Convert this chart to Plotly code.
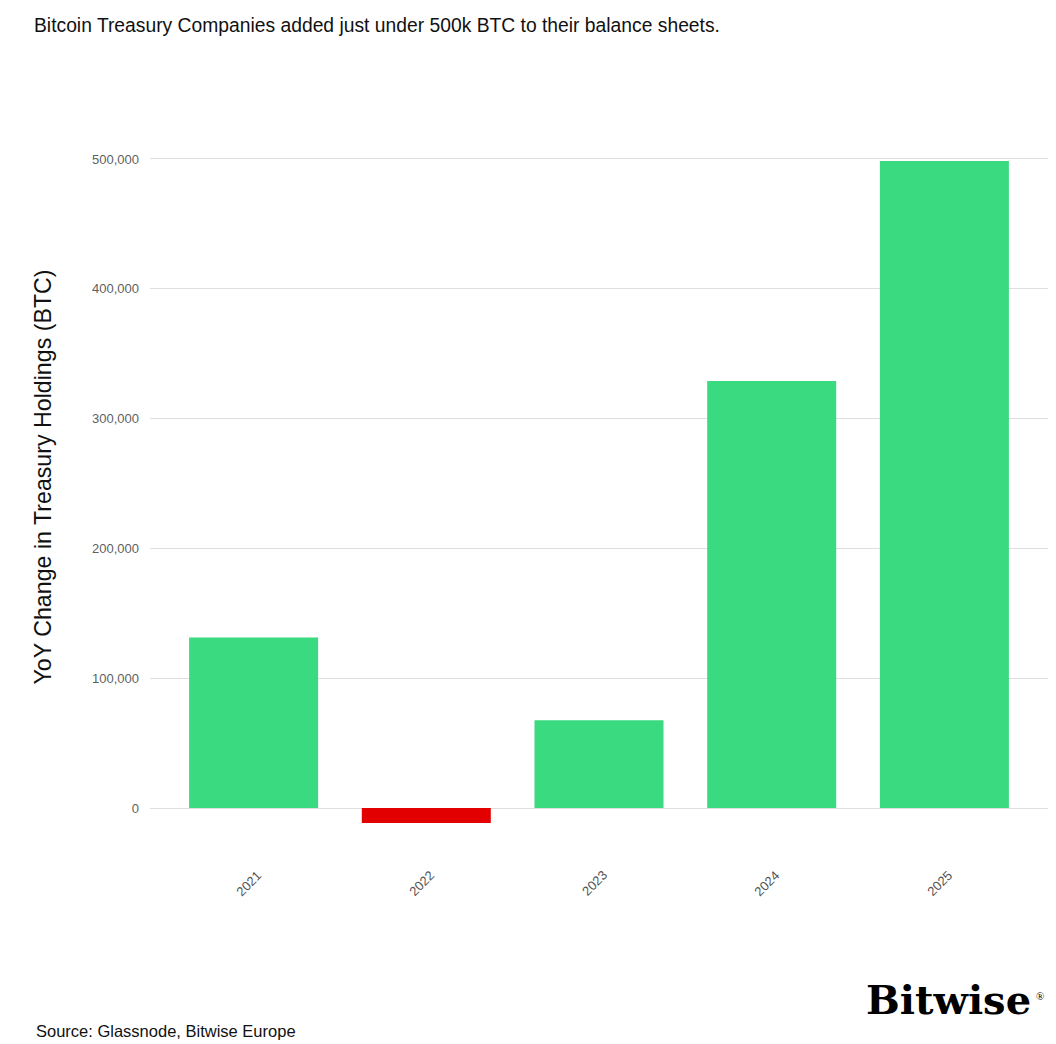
import plotly.graph_objects as go

years = ["2021", "2022", "2023", "2024", "2025"]
yoy_change = [131300, -11600, 67700, 328900, 498400]
bar_colors = ["#3ADA80", "#E30000", "#3ADA80", "#3ADA80", "#3ADA80"]
y_ticks = [0, 100000, 200000, 300000, 400000, 500000]

title_text = "Bitcoin Treasury Companies added just under 500k BTC to their balance sheets."
y_title = "YoY Change in Treasury Holdings (BTC)"
source_text = "Source: Glassnode, Bitwise Europe"

# the page body adds an 8px offset; work in page pixels and convert
OFF = 8
PAGE_W, PAGE_H = 1056, 1044
W, H = PAGE_W - OFF, PAGE_H - OFF

plot_left, plot_right = 150, 1048      # page px
plot_top, plot_bottom = 120.4, 846.6   # page px

ml = plot_left - OFF
mr = PAGE_W - plot_right
mt = plot_top - OFF
mb = PAGE_H - plot_bottom
plot_w = plot_right - plot_left
plot_h = plot_bottom - plot_top


def px(xp):
    return (xp - plot_left) / plot_w


def py(yp):
    return (plot_bottom - yp) / plot_h


fig = go.Figure()
fig.add_trace(go.Bar(
    x=years,
    y=yoy_change,
    marker=dict(color=bar_colors, line=dict(width=0)),
    showlegend=False,
    hoverinfo="x+y",
))

fig.update_layout(
    width=W, height=H,
    margin=dict(l=ml, r=mr, t=mt, b=mb, pad=0, autoexpand=False),
    paper_bgcolor="white",
    plot_bgcolor="white",
    bargap=0.253,
    font=dict(family="Liberation Sans, Arial, sans-serif", color="#222"),
    title=dict(
        text=title_text,
        x=(34 - OFF) / W, xref="container", xanchor="left",
        y=1 - (25 - OFF) / H, yref="container", yanchor="middle",
        font=dict(size=19.3, color="#111", family="Liberation Sans, Arial, sans-serif"),
    ),
    xaxis=dict(
        type="category",
        range=[-0.6, 4.6],
        showticklabels=False,
        showgrid=False,
        showline=False,
        zeroline=False,
        ticks="",
    ),
    yaxis=dict(
        range=[-30000, 530000],
        tickvals=y_ticks,
        tickformat=",",
        tickfont=dict(size=13, color="#5f5f5f"),
        ticklabelstandoff=10,
        showgrid=True,
        gridcolor="#dedede",
        gridwidth=1,
        zeroline=True,
        zerolinecolor="#dedede",
        zerolinewidth=1,
        showline=False,
        ticks="",
    ),
)

annotations = []
# rotated x tick labels centred under each bar
for i, yr in enumerate(years):
    annotations.append(dict(
        x=i, y=0, xref="x", yref="y",
        text=yr, showarrow=False, textangle=-45,
        xanchor="center", yanchor="middle",
        xshift=-5, yshift=-75,
        font=dict(size=13, color="#555"),
    ))

# y-axis title
annotations.append(dict(
    x=px(43), y=py(477.5),
    xref="paper", yref="paper",
    text=y_title, showarrow=False, textangle=-90,
    xanchor="center", yanchor="middle",
    font=dict(size=23.2, color="#111"),
))

# source
annotations.append(dict(
    x=px(34), y=py(1030),
    xref="paper", yref="paper",
    text=source_text, showarrow=False,
    xanchor="left", yanchor="middle",
    font=dict(size=16.5, color="#111"),
))

# logo wordmark
annotations.append(dict(
    x=px(864), y=py(999),
    xref="paper", yref="paper",
    text="<b>Bitwise</b>", showarrow=False,
    xanchor="left", yanchor="middle",
    font=dict(size=40, color="#000", family="DejaVu Serif, serif"),
))
annotations.append(dict(
    x=px(1040), y=py(995),
    xref="paper", yref="paper",
    text="®", showarrow=False,
    xanchor="center", yanchor="middle",
    font=dict(size=11, color="#000", family="Liberation Serif, Times New Roman, serif"),
))

fig.update_layout(annotations=annotations)

fig.write_html("out.html")
